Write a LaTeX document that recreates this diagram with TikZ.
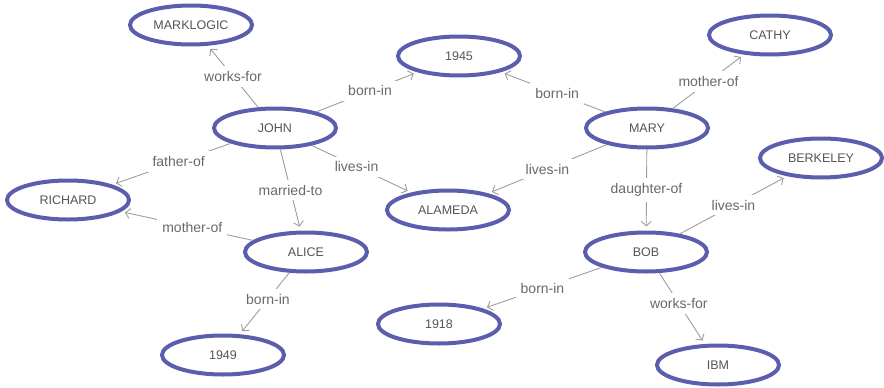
\documentclass[tikz,border=0pt]{standalone}
\usepackage{fontspec}
\setmainfont{Liberation Sans}
\usetikzlibrary{shapes.geometric,arrows.meta}
\definecolor{ring}{RGB}{91,94,173}
\definecolor{nodetext}{RGB}{85,85,85}
\definecolor{labeltext}{RGB}{105,105,105}
\definecolor{wire}{RGB}{158,158,158}
\tikzset{
  entity/.style={ellipse, draw=ring, line width=4pt, minimum width=122pt,
    minimum height=39pt, inner sep=0pt, text=nodetext,
    font=\fontsize{12.5}{14}\selectfont},
  rel/.style={draw=wire, line width=0.9pt,
    -{Straight Barb[length=4.5pt,width=10pt]}, shorten >=4pt},
  lbl/.style={fill=white, text=labeltext, inner sep=5pt,
    font=\fontsize{14}{16}\selectfont},
}
\begin{document}
\begin{tikzpicture}[x=1pt,y=-1pt]
\useasboundingbox[fill=white] (0,0) rectangle (884,388);
% people, places, years
\node[entity] (marklogic) at (191,25) {MARKLOGIC};
\node[entity] (y1945) at (459,56) {1945};
\node[entity] (cathy) at (770,35) {CATHY};
\node[entity] (john) at (275,128) {JOHN};
\node[entity] (mary) at (647,128) {MARY};
\node[entity] (richard) at (68,200) {RICHARD};
\node[entity] (alameda) at (448,210) {ALAMEDA};
\node[entity] (berkeley) at (821,158) {BERKELEY};
\node[entity] (alice) at (306,252) {ALICE};
\node[entity] (bob) at (646,252) {BOB};
\node[entity] (y1918) at (439,324) {1918};
\node[entity] (y1949) at (223,355) {1949};
\node[entity] (ibm) at (718,365) {IBM};
% relations
\draw[rel] (john) -- node[lbl] {works-for} (marklogic);
\draw[rel] (john) -- node[lbl, pos=0.53] {born-in} (y1945);
\draw[rel] (john) -- node[lbl, pos=0.44] {father-of} (richard);
\draw[rel] (john) -- node[lbl, pos=0.45] {lives-in} (alameda);
\draw[rel] (john) -- node[lbl] {married-to} (alice);
\draw[rel] (mary) -- node[lbl, pos=0.46] {born-in} (y1945);
\draw[rel] (mary) -- node[lbl] {mother-of} (cathy);
\draw[rel] (mary) -- node[lbl] {lives-in} (alameda);
\draw[rel] (mary) -- node[lbl] {daughter-of} (bob);
\draw[rel] (alice) -- node[lbl, pos=0.46] {mother-of} (richard);
\draw[rel] (alice) -- node[lbl, pos=0.43] {born-in} (y1949);
\draw[rel] (bob) -- node[lbl] {lives-in} (berkeley);
\draw[rel] (bob) -- node[lbl] {born-in} (y1918);
\draw[rel] (bob) -- node[lbl, pos=0.43] {works-for} (ibm);
\end{tikzpicture}
\end{document}
